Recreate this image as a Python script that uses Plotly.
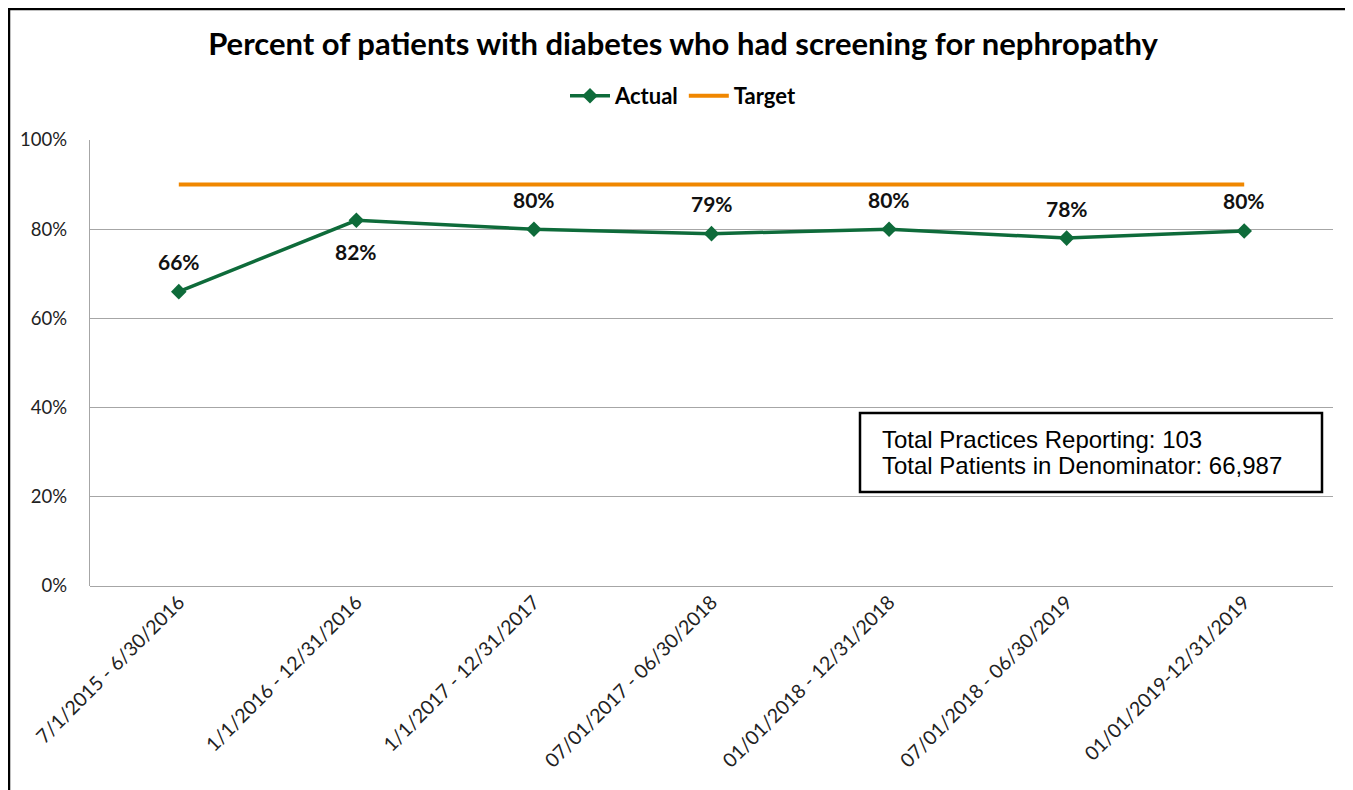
import plotly.graph_objects as go

categories = ["7/1/2015 - 6/30/2016", "1/1/2016 - 12/31/2016", "1/1/2017 - 12/31/2017",
              "07/01/2017 - 06/30/2018", "01/01/2018 - 12/31/2018", "07/01/2018 - 06/30/2019",
              "01/01/2019-12/31/2019"]
actual = [66, 82, 80, 79, 80, 78, 79.6]
target = [90, 90, 90, 90, 90, 90, 90]
label_below = [False, True, False, False, False, False, False]
y_ticks = [0, 20, 40, 60, 80, 100]
box_lines = ["Total Practices Reporting: 103", "Total Patients in Denominator: 66,987"]

FONT = "Lato, 'Open Sans', sans-serif"
GREEN = "#0E6B3A"
ORANGE = "#F08700"

fig = go.Figure()
fig.add_trace(go.Scatter(
    x=categories, y=actual, name="<b>Actual</b>", mode="lines+markers",
    line=dict(color=GREEN, width=3.5),
    marker=dict(symbol="diamond", size=12, color=GREEN),
))
fig.add_trace(go.Scatter(
    x=categories, y=target, name="<b>Target</b>", mode="lines",
    line=dict(color=ORANGE, width=4),
))

# page has an 8px body margin; figure coords = page coords - 8
OFF = 8
W, H = 1353 - OFF, 790 - OFF
L, R, T, B = 90 - OFF, 20, 140 - OFF, 790 - 586
pw, ph = W - L - R, H - T - B
def px(x):
    return (x - OFF - L) / pw
def py(y):
    return (H - B - (y - OFF)) / ph

shapes = [
    dict(type="rect", xref="paper", yref="paper", x0=px(9), x1=px(1347), y0=py(830), y1=py(9),
         line=dict(color="black", width=2.5), fillcolor="rgba(0,0,0,0)", layer="below"),
    dict(type="rect", xref="paper", yref="paper", x0=px(860), x1=px(1322), y0=py(492), y1=py(413),
         line=dict(color="black", width=2.5), fillcolor="white"),
]

annotations = []
for c, v, below in zip(categories, actual, label_below):
    annotations.append(dict(x=c, y=v, xref="x", yref="y", text=f"<b>{round(v)}%</b>",
                            showarrow=False, yshift=-31 if below else 30,
                            font=dict(family=FONT, size=21, color="#111")))
for i, line in enumerate(box_lines):
    annotations.append(dict(xref="paper", yref="paper", x=px(880), y=py(439 + 26 * i),
                            xanchor="left", yanchor="middle", showarrow=False, text=line,
                            font=dict(family="Liberation Sans, Arial, sans-serif", size=24,
                                      color="black")))

fig.update_layout(
    width=W, height=H,
    margin=dict(l=L, r=R, t=T, b=B),
    paper_bgcolor="white", plot_bgcolor="white",
    title=dict(text="<b>Percent of patients with diabetes who had screening for nephropathy</b>",
               x=(683 - OFF) / W, xref="container", xanchor="center",
               y=1 - (44 - OFF) / H, yref="container", yanchor="middle",
               font=dict(family=FONT, size=31, color="black")),
    legend=dict(orientation="h", x=px(683), xanchor="center", y=py(96), yanchor="middle",
                font=dict(family=FONT, size=22, color="black"), traceorder="normal",
                itemwidth=40, bgcolor="rgba(0,0,0,0)"),
    xaxis=dict(type="category", range=[-0.5, 6.5], tickangle=-45, showgrid=False,
               showline=False, ticks="", tickfont=dict(family=FONT, size=19.5, color="#222")),
    yaxis=dict(range=[0, 100], tickvals=y_ticks, ticktext=[f"{v}%" for v in y_ticks],
               showgrid=True, gridcolor="#A6A6A6", gridwidth=1.3, zeroline=True,
               zerolinecolor="#A6A6A6", zerolinewidth=1.3,
               showline=True, linecolor="#A6A6A6", linewidth=1.3, ticks="",
               tickfont=dict(family=FONT, size=18.5, color="#222"), ticklabelstandoff=18),
    shapes=shapes,
    annotations=annotations,
    showlegend=True,
)
fig.write_html("out.html")
